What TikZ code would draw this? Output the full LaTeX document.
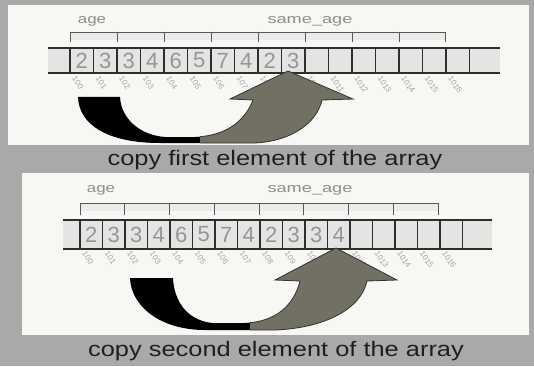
\documentclass[tikz,border=0pt]{standalone}
\usepackage{fontspec}
\setmainfont{Liberation Sans}
\definecolor{bgc}{HTML}{A9A9A9}
\definecolor{panelc}{HTML}{F7F7F4}
\definecolor{bandc}{HTML}{E4E4E2}
\definecolor{digitc}{HTML}{959593}
\definecolor{labelc}{HTML}{8E8E8E}
\definecolor{addrc}{HTML}{A4A4A2}
\definecolor{linec}{HTML}{2E2E2E}
\definecolor{arrowg}{HTML}{727063}
\tikzset{
  cell/.style={inner sep=0pt, minimum height=25pt, text=digitc, font=\fontsize{22}{22}\selectfont},
  varlabel/.style={text=labelc, inner sep=0pt, font=\fontsize{13}{13}\selectfont},
  addr/.style={text=addrc, inner sep=0pt, rotate=-55, anchor=west, font=\fontsize{8}{8}\selectfont},
  caption/.style={text=black!88, inner sep=0pt, font=\fontsize{21}{21}\selectfont},
  arrline/.style={linec, line width=1.4pt},
  brack/.style={black!65, line width=0.9pt},
}
\begin{document}
\begin{tikzpicture}[x=1pt,y=-1pt]
\useasboundingbox (0,0) rectangle (534,366);
\fill[bgc] (0,0) rectangle (534,366);
\fill[panelc] (8,5) rectangle (529,145);
\fill[panelc] (22,173) rectangle (529,335);

% ---------------- panel 1 ----------------
\fill[bandc] (48,49) rectangle (500,72);
\fill[black!8] (70,33) rectangle (445,40);
\draw[brack] (70,42) -- (70,32) -- (445,32) -- (445,42);
\foreach \k in {1,...,7} \draw[brack] (70+47*\k,32) -- (70+47*\k,42);
\foreach \v [count=\i from 0] in {2,3,3,4,6,5,7,4,2,3,{},{},{},{},{},{},{}} {
  \node[cell, minimum width=23.5pt] (p\i) at (81.75+23.5*\i,60.5) {\v};
  \node[addr] (pa\i) at (74+23.5*\i,77) {10\i};
}
\draw[arrline] (48,48) -- (500,48);
\draw[arrline] (48,73) -- (500,73);
\foreach \i in {0,...,17} \draw[arrline] (70+23.5*\i,48) -- (70+23.5*\i,73);
\node[varlabel] (agea) at (92,21) {\scalebox{1.3}[1]{age}};
\node[varlabel] (samea) at (310,21) {\scalebox{1.4}[1]{same\_age}};

\def\arrowA{(78,97) .. controls (79,125) and (108,143) .. (160,143) -- (255,143)
  .. controls (293,141) and (317,122) .. (322,100) -- (353,99) -- (288,71) -- (230,99) -- (253,100)
  .. controls (245,121) and (226,136) .. (195,137) -- (165,137)
  .. controls (139,135) and (121,118) .. (120,97) -- cycle}
\begin{scope}
  \clip (0,0) rectangle (200,150);
  \fill[black] \arrowA;
\end{scope}
\begin{scope}
  \clip (200,0) rectangle (534,150);
  \fill[arrowg, draw=black!80, line width=0.8pt] \arrowA;
\end{scope}
\node[caption] (capa) at (275,160) {\scalebox{1.21}[1]{copy first element of the array}};

% ---------------- panel 2 ----------------
\fill[bandc] (63,221) rectangle (492,248);
\fill[black!8] (80,204) rectangle (438,211);
\draw[brack] (80,215) -- (80,203) -- (438,203) -- (438,215);
\foreach \k in {1,...,7} \draw[brack] (80+44.75*\k,203) -- (80+44.75*\k,215);
\foreach \v [count=\i from 0] in {2,3,3,4,6,5,7,4,2,3,3,4,{},{},{},{},{}} {
  \node[cell, minimum width=22.5pt] (q\i) at (91.25+22.5*\i,234.5) {\v};
  \node[addr] (qa\i) at (84+22.5*\i,252) {10\i};
}
\draw[arrline] (63,220) -- (492,220);
\draw[arrline] (63,249) -- (492,249);
\foreach \i in {0,...,17} \draw[arrline] (80+22.5*\i,220) -- (80+22.5*\i,249);
\node[varlabel] (ageb) at (101,190) {\scalebox{1.3}[1]{age}};
\node[varlabel] (sameb) at (310,190) {\scalebox{1.4}[1]{same\_age}};

\def\arrowB{(130,278) .. controls (131,306) and (160,330) .. (205,330) -- (275,330)
  .. controls (325,328) and (361,309) .. (367,281) -- (397,280) -- (336,248) -- (275,280) -- (300,281)
  .. controls (294,305) and (276,322) .. (245,323) -- (212,323)
  .. controls (186,320) and (174,300) .. (173,278) -- cycle}
\begin{scope}
  \clip (0,170) rectangle (250,340);
  \fill[black] \arrowB;
\end{scope}
\begin{scope}
  \clip (250,170) rectangle (534,340);
  \fill[arrowg, draw=black!80, line width=0.8pt] \arrowB;
\end{scope}
\node[caption] (capb) at (276,351) {\scalebox{1.21}[1]{copy second element of the array}};
\end{tikzpicture}
\end{document}
